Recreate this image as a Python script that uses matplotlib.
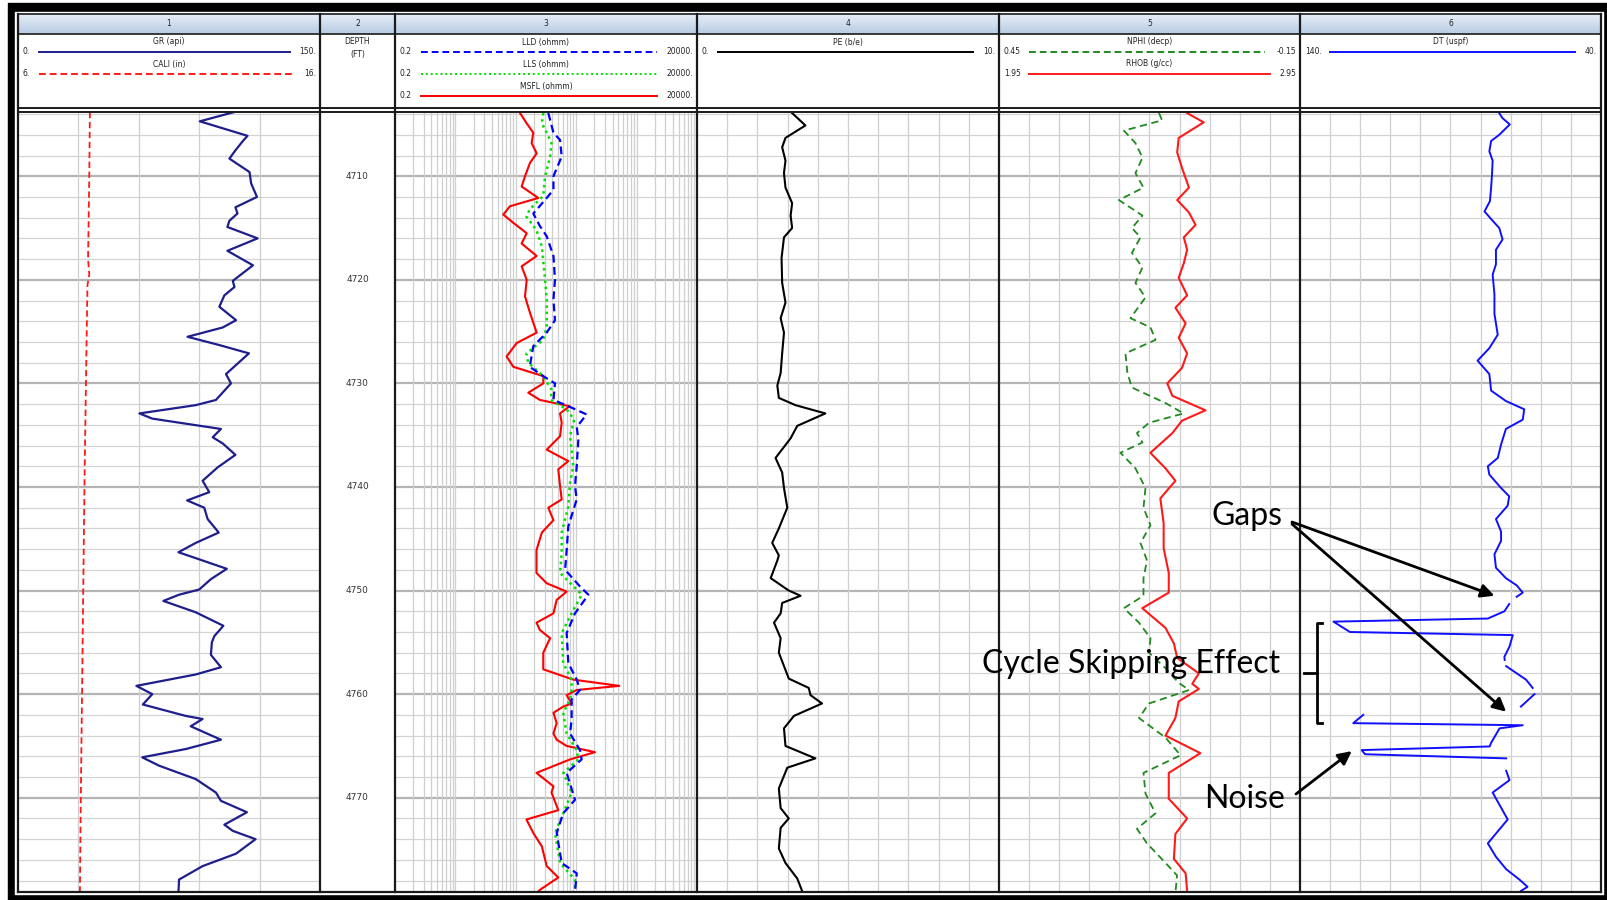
import numpy as np
import matplotlib.pyplot as plt

W, H = 1608, 900
DEPTH_TOP, DEPTH_BOT = 4703.8, 4779.1
EDGES = [18, 320, 395, 697, 999, 1300, 1601]   # track borders (px)
DATA_Y0, DATA_Y1 = 112, 892                      # log body (px)

# ---------------- log curves (depth in ft) ----------------
gr_depth = [4703.8, 4704.7, 4706.1, 4706.6, 4707.5, 4708.3, 4709.6, 4710.7, 4712.0, 4713.0,
            4713.6, 4714.3, 4714.9, 4716.0, 4717.2, 4718.6, 4720.1, 4720.7, 4721.5, 4722.6,
            4723.9, 4724.6, 4725.5, 4726.3, 4727.1, 4729.1, 4730.0, 4731.6, 4732.1, 4732.9,
            4733.4, 4734.4, 4735.2, 4735.8, 4736.9, 4738.1, 4739.4, 4740.5, 4741.3, 4742.0,
            4743.1, 4744.4, 4745.4, 4746.3, 4747.1, 4747.9, 4748.9, 4749.9, 4750.4, 4751.0,
            4752.1, 4753.4, 4754.4, 4755.0, 4756.2, 4757.4, 4758.1, 4759.2, 4760.0, 4761.0,
            4762.1, 4762.4, 4763.1, 4764.4, 4765.3, 4766.1, 4766.9, 4768.2, 4769.5, 4770.3,
            4771.4, 4772.6, 4773.2, 4774.0, 4775.4, 4776.6, 4777.9, 4779.1]
gr = [107.5, 90.3, 114.0, 111.7, 108.0, 105.0, 115.0, 115.8, 118.7, 108.0,
      109.0, 105.0, 104.0, 119.0, 104.0, 116.7, 106.7, 107.5, 102.5, 100.0,
      108.3, 101.7, 84.2, 100.0, 114.7, 103.3, 105.8, 98.3, 88.3, 60.3,
      66.7, 100.8, 96.7, 101.7, 108.0, 99.2, 91.7, 95.0, 84.0, 92.5,
      94.2, 99.7, 88.3, 79.7, 91.7, 103.7, 95.8, 90.0, 80.0, 72.2,
      88.3, 102.0, 97.5, 96.3, 95.8, 100.8, 88.3, 58.8, 66.7, 62.0,
      83.3, 91.7, 85.8, 100.8, 83.3, 61.7, 70.0, 88.3, 98.3, 100.8,
      113.7, 102.5, 106.7, 118.0, 108.3, 91.7, 80.0, 79.7]

cali_depth = [4703.8, 4710.0, 4718.0, 4719.5, 4720.5, 4726.0, 4730.0, 4740.0, 4750.0, 4760.0, 4770.0, 4779.1]
cali = [8.38, 8.36, 8.32, 8.36, 8.30, 8.27, 8.25, 8.20, 8.16, 8.12, 8.08, 8.05]

msfl_depth = [4703.9, 4704.9, 4705.8, 4706.8, 4707.8, 4708.7, 4710.0, 4711.0, 4712.1, 4712.9,
              4713.7, 4714.5, 4715.5, 4716.5, 4717.7, 4718.7, 4720.0, 4721.6, 4723.2, 4725.1,
              4726.1, 4727.4, 4728.4, 4729.3, 4730.0, 4730.9, 4731.6, 4732.2, 4732.9, 4733.8,
              4735.1, 4736.4, 4737.5, 4738.3, 4739.9, 4741.2, 4742.0, 4743.2, 4744.4, 4746.1,
              4748.3, 4749.3, 4750.1, 4750.9, 4752.2, 4753.1, 4753.8, 4754.6, 4756.0, 4757.6,
              4758.6, 4759.2, 4759.6, 4760.1, 4760.9, 4761.2, 4761.8, 4762.8, 4763.8, 4764.4,
              4765.0, 4765.6, 4766.3, 4767.6, 4768.9, 4769.5, 4771.2, 4772.1, 4773.4, 4774.7,
              4776.6, 4777.7, 4778.9, 4779.1]
msfl = [23.5, 30.3, 39.0, 36.6, 44.3, 34.4, 28.4, 25.0, 47.2, 16.0,
        12.4, 18.2, 30.3, 25.0, 44.3, 25.0, 30.3, 28.4, 34.4, 44.3,
        20.7, 14.1, 18.2, 57.1, 57.1, 32.2, 50.3, 155, 108, 115,
        108, 65, 148, 101, 108, 115, 69, 84, 54, 44,
        44, 65, 139, 95, 84, 44, 50, 74, 57, 57,
        179, 1035, 204, 139, 168, 122, 84, 95, 84, 95,
        139, 409, 158, 44, 84, 78, 101, 30, 39, 54,
        65, 101, 50, 46]

lls_depth = [4703.9, 4704.9, 4705.8, 4706.8, 4708.1, 4710.0, 4711.9, 4713.2, 4713.9, 4715.2,
             4716.8, 4720.0, 4721.9, 4724.5, 4725.8, 4727.1, 4728.0, 4729.3, 4730.6, 4731.6,
             4732.5, 4733.5, 4735.1, 4736.4, 4738.0, 4739.6, 4741.9, 4744.4, 4746.4, 4748.3,
             4749.9, 4750.4, 4752.2, 4754.1, 4757.0, 4758.6, 4759.6, 4760.5, 4761.8, 4763.8,
             4765.4, 4766.3, 4767.6, 4769.5, 4771.5, 4773.4, 4776.3, 4777.9, 4779.1]
lls = [57, 54, 65, 78, 74, 61, 57, 34, 30, 44,
       54, 61, 65, 65, 57, 30, 32, 57, 78, 76,
       139, 185, 158, 168, 179, 158, 148, 115, 115, 108,
       204, 246, 168, 115, 122, 168, 168, 158, 122, 139,
       204, 217, 122, 168, 122, 89, 108, 191, 191]

lld_depth = [4703.9, 4705.8, 4706.5, 4708.1, 4710.0, 4711.3, 4712.1, 4713.6, 4714.8, 4715.8,
             4717.7, 4720.0, 4721.9, 4723.9, 4725.1, 4726.4, 4728.4, 4729.3, 4730.0, 4731.6,
             4732.2, 4733.0, 4734.2, 4735.4, 4738.0, 4739.9, 4741.2, 4743.8, 4746.1, 4748.0,
             4749.6, 4750.4, 4752.2, 4754.1, 4757.0, 4758.6, 4759.6, 4760.5, 4762.5, 4763.8,
             4765.4, 4766.3, 4767.6, 4770.2, 4771.5, 4773.4, 4776.3, 4777.3, 4779.1]
lld = [69, 84, 108, 115, 84, 84, 65, 39, 50, 65,
       84, 89, 84, 89, 65, 39, 34, 57, 89, 84,
       148, 298, 204, 217, 204, 191, 204, 148, 139, 131,
       231, 318, 191, 139, 148, 204, 231, 168, 168, 158,
       231, 246, 139, 191, 122, 95, 115, 204, 191]

pe_depth = [4703.9, 4705.1, 4706.3, 4707.2, 4708.5, 4709.7, 4711.1, 4712.6, 4713.8, 4715.0,
            4715.9, 4717.9, 4720.3, 4722.2, 4723.7, 4725.1, 4727.1, 4729.0, 4730.2, 4731.4,
            4732.1, 4732.9, 4734.1, 4735.3, 4737.2, 4738.6, 4740.1, 4742.0, 4744.0, 4745.4,
            4746.6, 4747.1, 4748.8, 4750.0, 4750.5, 4751.2, 4752.2, 4753.1, 4754.6, 4756.0,
            4758.5, 4759.4, 4760.1, 4760.9, 4762.1, 4763.3, 4765.0, 4766.2, 4767.1, 4769.1,
            4771.0, 4772.0, 4772.9, 4774.9, 4776.3, 4777.8, 4779.0]
pe = [3.15, 3.59, 2.93, 2.82, 2.93, 2.88, 2.93, 3.15, 3.10, 3.15,
      2.88, 2.80, 2.82, 2.93, 2.77, 2.88, 2.82, 2.77, 2.66, 2.71,
      3.26, 4.25, 3.32, 3.10, 2.60, 2.82, 2.88, 2.99, 2.71, 2.49,
      2.71, 2.66, 2.44, 3.04, 3.43, 2.82, 2.77, 2.55, 2.77, 2.71,
      3.04, 3.70, 3.76, 4.14, 3.21, 2.88, 2.93, 3.92, 2.99, 2.71,
      2.77, 3.04, 2.77, 2.71, 2.93, 3.32, 3.48]

nphi_depth = [4703.9, 4704.6, 4705.6, 4706.8, 4708.2, 4709.7, 4711.1, 4712.3, 4713.8, 4715.0,
              4715.9, 4717.4, 4718.8, 4720.3, 4721.7, 4723.7, 4724.6, 4725.8, 4727.1, 4729.0,
              4730.4, 4731.9, 4732.9, 4733.8, 4734.8, 4735.7, 4736.7, 4738.2, 4740.1, 4742.0,
              4743.7, 4745.4, 4747.1, 4748.8, 4750.5, 4751.7, 4753.1, 4754.6, 4756.0, 4757.5,
              4758.9, 4759.6, 4760.9, 4762.3, 4764.2, 4765.9, 4767.6, 4769.6, 4771.5, 4773.0,
              4774.4, 4776.3, 4777.5, 4779.0]
nphi = [0.131, 0.125, 0.201, 0.178, 0.164, 0.178, 0.162, 0.211, 0.164, 0.185,
        0.168, 0.185, 0.164, 0.178, 0.158, 0.188, 0.148, 0.138, 0.198, 0.194,
        0.185, 0.118, 0.082, 0.151, 0.175, 0.164, 0.208, 0.178, 0.158, 0.162,
        0.148, 0.168, 0.155, 0.162, 0.162, 0.201, 0.171, 0.148, 0.151, 0.118,
        0.092, 0.071, 0.151, 0.171, 0.118, 0.088, 0.162, 0.158, 0.138, 0.175,
        0.155, 0.118, 0.095, 0.098]

rhob_depth = [4703.9, 4704.8, 4706.3, 4707.7, 4709.2, 4711.1, 4712.3, 4713.5, 4714.7, 4715.9,
              4717.1, 4718.4, 4719.8, 4721.5, 4722.7, 4724.2, 4725.6, 4727.1, 4728.5, 4730.0,
              4731.2, 4732.6, 4733.6, 4734.8, 4736.7, 4738.2, 4739.4, 4741.1, 4743.5, 4745.9,
              4748.3, 4750.2, 4751.7, 4753.6, 4755.1, 4756.5, 4758.0, 4759.0, 4759.5, 4760.7,
              4762.3, 4764.0, 4765.7, 4767.6, 4770.1, 4772.0, 4773.5, 4775.9, 4777.3, 4779.0]
rhob = [2.575, 2.630, 2.547, 2.542, 2.558, 2.581, 2.542, 2.581, 2.603, 2.564,
        2.575, 2.564, 2.547, 2.575, 2.536, 2.570, 2.547, 2.575, 2.558, 2.509,
        2.526, 2.636, 2.558, 2.526, 2.453, 2.503, 2.536, 2.486, 2.497, 2.497,
        2.514, 2.514, 2.426, 2.503, 2.531, 2.542, 2.614, 2.592, 2.614, 2.547,
        2.536, 2.503, 2.619, 2.514, 2.514, 2.575, 2.536, 2.531, 2.570, 2.575]

# DT has missing samples (nan) and cycle-skip spikes
dt_depth = [4703.7, 4704.4, 4705.0, 4706.0, 4706.6, 4707.6, 4708.5, 4709.8, 4711.1, 4712.4,
            4713.4, 4714.3, 4715.0, 4716.1, 4717.1, 4718.5, 4719.5, 4721.4, 4723.3, 4725.3,
            4726.6, 4727.8, 4729.1, 4730.7, 4731.7, 4732.5, 4733.5, 4734.4, 4735.9, 4737.2,
            4738.0, 4738.8, 4740.1, 4740.9, 4741.8, 4743.1, 4744.3, 4745.2, 4746.5, 4747.8,
            4748.8, 4749.5, 4750.2, 4750.6, 4750.9, 4751.3, 4752.0, 4752.7, 4753.0, 4754.0,
            4754.3, 4755.4, 4756.4, 4756.7, 4757.0, 4757.3, 4758.6, 4759.4, 4759.7, 4760.0,
            4761.2, 4761.6, 4762.0, 4762.8, 4763.0, 4763.3, 4764.7, 4765.05, 4765.4, 4765.8,
            4766.2, 4766.8, 4767.4, 4768.3, 4769.5, 4772.1, 4774.4, 4775.7, 4776.9, 4777.9,
            4778.6, 4779.0]
dt = [74.3, 72.7, 70.3, 73.8, 76.5, 77.1, 76.0, 76.2, 76.5, 76.9,
      78.7, 76.0, 73.8, 72.7, 74.9, 74.9, 76.0, 75.4, 75.4, 74.3,
      77.1, 81.0, 77.1, 76.5, 71.6, 65.5, 66.0, 71.6, 73.2, 74.3,
      77.6, 77.1, 73.2, 70.5, 71.0, 74.9, 73.2, 73.2, 75.4, 74.9,
      71.6, 68.0, 66.0, 68.0, np.nan, 70.5, 72.1, 77.6, 128.9, 123.4,
      69.3, 70.4, 72.1, 72.0, np.nan, 71.5, 64.9, 62.7, np.nan, 62.1,
      66.6, np.nan, 119.0, 122.3, 66.0, 73.7, 76.5, 77.0, 119.5, 118.4,
      71.5, np.nan, 71.5, 70.4, 76.0, 71.0, 77.6, 74.9, 71.5, 67.1,
      64.4, 66.6]

depth_labels = [4710, 4720, 4730, 4740, 4750, 4760, 4770]

# curve scales (left, right)
gr_scale, cali_scale = (0, 150), (6, 16)
res_scale = (0.2, 20000)
pe_scale = (0, 10)
nphi_scale, rhob_scale = (0.45, -0.15), (1.95, 2.95)
dt_scale = (140, 40)

C_GR, C_CALI = '#1e1e8c', '#ff1a1a'
C_LLD, C_LLS, C_MSFL = '#0000ff', '#00e000', '#ff0000'
C_PE, C_NPHI, C_RHOB, C_DT = 'black', '#1f8a1f', '#ff1a1a', '#1010ff'

# ---------------- figure ----------------
fig = plt.figure(figsize=(W / 100, H / 100), dpi=100)
bg = fig.add_axes([0, 0, 1, 1])
bg.set_xlim(0, W)
bg.set_ylim(H, 0)
bg.set_axis_off()

# outer black frame
bg.fill_between([8, W], 3, H, color='black', zorder=0)
bg.fill_between([15, 1603], 12, 894, color='white', zorder=0)

# track number band with a light blue gradient
grad = np.linspace(0, 1, 50).reshape(-1, 1)
top_c, bot_c = np.array([0.90, 0.93, 0.97]), np.array([0.72, 0.80, 0.89])
band = top_c + grad[..., None] * (bot_c - top_c)
bg.imshow(band, extent=(EDGES[0], EDGES[-1], 34, 14), aspect='auto', zorder=1)
for i in range(6):
    bg.text((EDGES[i] + EDGES[i + 1]) / 2, 24, str(i + 1), ha='center', va='center',
            fontsize=5.5, color='#222222', zorder=2)

# header entries: name, left value, right value, colour, linestyle
headers = {
    0: [('GR (api)', '0.', '150.', C_GR, '-'), ('CALI (in)', '6.', '16.', C_CALI, (0, (3.5, 2)))],
    2: [('LLD (ohmm)', '0.2', '20000.', C_LLD, (0, (3.5, 2))),
        ('LLS (ohmm)', '0.2', '20000.', C_LLS, (0, (1, 1.5))),
        ('MSFL (ohmm)', '0.2', '20000.', C_MSFL, '-')],
    3: [('PE (b/e)', '0.', '10.', C_PE, '-')],
    4: [('NPHI (decp)', '0.45', '-0.15', C_NPHI, (0, (3.5, 2))), ('RHOB (g/cc)', '1.95', '2.95', C_RHOB, '-')],
    5: [('DT (uspf)', '140.', '40.', C_DT, '-')],
}
for i, rows in headers.items():
    x0, x1 = EDGES[i], EDGES[i + 1]
    for r, (name, lo, hi, col, ls) in enumerate(rows):
        yn, yl = 42 + 22 * r, 52 + 22 * r
        bg.text((x0 + x1) / 2, yn, name, ha='center', va='center', fontsize=5.5, color='#222222')
        bg.text(x0 + 5, yl, lo, ha='left', va='center', fontsize=5.5, color='#222222')
        bg.text(x1 - 4, yl, hi, ha='right', va='center', fontsize=5.5, color='#222222')
        bg.plot([x0 + 12 + 4.6 * len(lo), x1 - 12 - 4.6 * len(hi)], [yl, yl],
                color=col, lw=1.4, linestyle=ls)
bg.text((EDGES[1] + EDGES[2]) / 2, 42, 'DEPTH', ha='center', va='center', fontsize=5.5, color='#222222')
bg.text((EDGES[1] + EDGES[2]) / 2, 54, '(FT)', ha='center', va='center', fontsize=5.5, color='#222222')


def track_axes(i, xlim, log=False):
    x0, x1 = EDGES[i], EDGES[i + 1]
    ax = fig.add_axes([x0 / W, 1 - DATA_Y1 / H, (x1 - x0) / W, (DATA_Y1 - DATA_Y0) / H])
    if log:
        ax.set_xscale('log')
    ax.set_xlim(*xlim)
    ax.set_ylim(DEPTH_BOT, DEPTH_TOP)
    ax.set_axis_off()
    return ax


def depth_grid(ax, xs):
    for d in range(4704, 4780, 2):
        if d % 10 == 0:
            ax.axhline(d, color='#b4b4b4', lw=1.6, zorder=0)
        else:
            ax.axhline(d, color='#d4d4d4', lw=0.9, zorder=0)
    for x in xs:
        ax.axvline(x, color='#cfcfcf', lw=0.9, zorder=0)


def twin(ax, xlim):
    t = ax.twiny()
    t.set_xlim(*xlim)
    t.set_ylim(DEPTH_BOT, DEPTH_TOP)
    t.set_axis_off()
    return t


curve_kw = dict(solid_joinstyle='round', dash_joinstyle='round')

# track 1: GR + CALI
ax1 = track_axes(0, gr_scale)
depth_grid(ax1, [30, 60, 90, 120])
ax1b = twin(ax1, cali_scale)
ax1b.plot(cali, cali_depth, color=C_CALI, lw=1.3, linestyle=(0, (3.5, 2)))
ax1.plot(gr, gr_depth, color=C_GR, lw=1.6, zorder=3, **curve_kw)

# track 2: depth
ax2 = track_axes(1, (0, 1))
for d in depth_labels:
    ax2.text(0.5, d, str(d), ha='center', va='center', fontsize=6.5, color='#333333')

# track 3: resistivity, logarithmic grid in steps of the 0.2 base
ax3 = track_axes(2, res_scale, log=True)
log_lines = [0.2 * k * 10.0 ** n for n in range(0, 5) for k in range(2, 11)]
log_lines = [v for v in log_lines if v < res_scale[1] * 0.999]
depth_grid(ax3, log_lines)
ax3.plot(msfl, msfl_depth, color=C_MSFL, lw=1.5, **curve_kw)
ax3.plot(lls, lls_depth, color=C_LLS, lw=1.8, linestyle=(0, (1, 1.5)), **curve_kw)
ax3.plot(lld, lld_depth, color=C_LLD, lw=1.6, linestyle=(0, (3.5, 2)), **curve_kw)

# track 4: PE
ax4 = track_axes(3, pe_scale)
depth_grid(ax4, np.linspace(*pe_scale, 11)[1:-1])
ax4.plot(pe, pe_depth, color=C_PE, lw=1.5, **curve_kw)

# track 5: NPHI + RHOB
ax5 = track_axes(4, nphi_scale)
depth_grid(ax5, np.linspace(*nphi_scale, 11)[1:-1])
ax5.plot(nphi, nphi_depth, color=C_NPHI, lw=1.3, linestyle=(0, (4, 2.5)), **curve_kw)
ax5b = twin(ax5, rhob_scale)
ax5b.plot(rhob, rhob_depth, color=C_RHOB, lw=1.5, **curve_kw)

# track 6: DT
ax6 = track_axes(5, dt_scale)
depth_grid(ax6, np.linspace(*dt_scale, 11)[1:-1])
ax6.plot(dt, dt_depth, color=C_DT, lw=1.4, **curve_kw)

# ---------------- borders and annotations on top ----------------
ov = fig.add_axes([0, 0, 1, 1])
ov.set_xlim(0, W)
ov.set_ylim(H, 0)
ov.set_axis_off()
ov.patch.set_alpha(0)
for x in EDGES:
    ov.plot([x, x], [14, DATA_Y1], color='#1a1a1a', lw=1.6)
for y, lw in [(14, 1.2), (34, 1.2), (108, 1.4), (111.5, 1.4), (DATA_Y1, 1.6)]:
    ov.plot([EDGES[0], EDGES[-1]], [y, y], color='#1a1a1a', lw=lw)

afont = dict(family=['Lato', 'DejaVu Sans'], fontsize=23, color='black')
ov.text(1212, 516, 'Gaps', ha='left', va='center', **afont)
ov.text(982, 664, 'Cycle Skipping Effect', ha='left', va='center', **afont)
ov.text(1204, 799, 'Noise', ha='left', va='center', **afont)

arrow = dict(arrowstyle='-|>', color='black', lw=2, mutation_scale=20, shrinkA=0, shrinkB=0)
ov.annotate('', xy=(75.4, 4750.5), xycoords=ax6.transData,
            xytext=(1292, 522), textcoords='data', arrowprops=arrow)
ov.annotate('', xy=(71.5, 4761.7), xycoords=ax6.transData,
            xytext=(1292, 524), textcoords='data', arrowprops=arrow)
ov.annotate('', xy=(122.8, 4765.5), xycoords=ax6.transData,
            xytext=(1296, 794), textcoords='data', arrowprops=arrow)

# bracket around the cycle-skip interval
ov.plot([1322, 1317, 1317, 1322], [623, 623, 723, 723], color='black', lw=2)
ov.plot([1304, 1317], [673, 673], color='black', lw=2)

fig.savefig('out.png', dpi=100)
